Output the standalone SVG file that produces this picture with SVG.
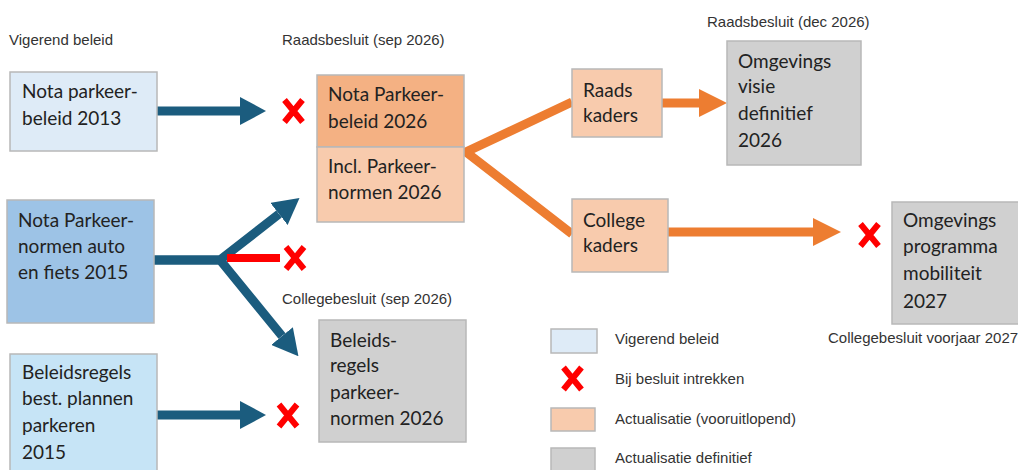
<svg xmlns="http://www.w3.org/2000/svg" width="1018" height="470" viewBox="0 0 1018 470">
<style>
.box{stroke:#b8b8b8;stroke-width:1.5}
.t{font-family:Lato,"Open Sans","Liberation Sans",sans-serif;font-size:19px;fill:#222}
.lbl{font-family:"Liberation Sans",Arial,sans-serif;font-size:15px;fill:#333}
.blue{fill:none;stroke:#1b5c7e;stroke-width:9;stroke-linejoin:miter}
.orange{fill:none;stroke:#ed7d31;stroke-width:9;stroke-linejoin:miter}
.x{fill:none;stroke:#ff0000;stroke-width:6}
</style>
<defs>
<marker id="hb" markerUnits="userSpaceOnUse" markerWidth="26" markerHeight="28" refX="0" refY="14" orient="auto" viewBox="0 0 26 28">
<path d="M0,0 L26,14 L0,28 Z" fill="#1b5c7e"/>
</marker>
<marker id="ho" markerUnits="userSpaceOnUse" markerWidth="28" markerHeight="28" refX="0" refY="14" orient="auto" viewBox="0 0 28 28">
<path d="M0,0 L28,14 L0,28 Z" fill="#ed7d31"/>
</marker>
<g id="xmark"><path class="x" d="M-9,-11 L9,11 M9,-11 L-9,11"/></g>
</defs>

<rect width="1018" height="470" fill="#ffffff"/>

<g id="connectors">
<line class="blue" x1="157" y1="111" x2="240" y2="111" marker-end="url(#hb)"/>
<polyline class="blue" points="154,260 220,260 279,214" marker-end="url(#hb)"/>
<polyline class="blue" points="154,260 220,260 282,336" marker-end="url(#hb)"/>
<line x1="227" y1="258" x2="280" y2="258" stroke="#ff0000" stroke-width="8"/>
<line class="blue" x1="157" y1="415" x2="240" y2="415" marker-end="url(#hb)"/>
<polyline class="orange" points="572,102 466,152 572,234"/>
<line class="orange" x1="662" y1="103" x2="699" y2="103" marker-end="url(#ho)"/>
<line class="orange" x1="668" y1="232" x2="813" y2="232" marker-end="url(#ho)"/>
</g>

<g id="crosses">
<use href="#xmark" x="293.5" y="111"/>
<use href="#xmark" x="295" y="258"/>
<use href="#xmark" x="288" y="415.5"/>
<use href="#xmark" x="869.5" y="235"/>
</g>

<g id="labels">
<text class="lbl" x="9" y="45">Vigerend beleid</text>
<text class="lbl" x="282" y="45">Raadsbesluit (sep 2026)</text>
<text class="lbl" x="707" y="27">Raadsbesluit (dec 2026)</text>
<text class="lbl" x="282" y="304">Collegebesluit (sep 2026)</text>
<text class="lbl" x="828" y="343">Collegebesluit voorjaar 2027</text>
</g>

<g id="n1">
<rect class="box" x="10" y="72" width="147" height="79" fill="#deebf7"/>
<text class="t" x="22" y="98">Nota parkeer-</text>
<text class="t" x="22" y="125">beleid 2013</text>
</g>
<g id="n2">
<rect class="box" x="7" y="200" width="147" height="123" fill="#9dc3e6"/>
<text class="t" x="18" y="227">Nota Parkeer-</text>
<text class="t" x="18" y="253">normen auto</text>
<text class="t" x="18" y="279">en fiets 2015</text>
</g>
<g id="n3">
<rect class="box" x="10" y="354" width="147" height="120" fill="#c6e4f6"/>
<text class="t" x="22" y="379">Beleidsregels</text>
<text class="t" x="22" y="405">best. plannen</text>
<text class="t" x="22" y="432">parkeren</text>
<text class="t" x="22" y="459">2015</text>
</g>
<g id="n4">
<rect class="box" x="317" y="75" width="147" height="72" fill="#f4b183"/>
<text class="t" x="328" y="101">Nota Parkeer-</text>
<text class="t" x="328" y="128">beleid 2026</text>
</g>
<g id="n5">
<rect class="box" x="317" y="147" width="147" height="75" fill="#f8cbad"/>
<text class="t" x="328" y="173">Incl. Parkeer-</text>
<text class="t" x="328" y="199">normen 2026</text>
</g>
<g id="n6">
<rect class="box" x="319" y="320" width="147" height="122" fill="#d0d0d0"/>
<text class="t" x="330" y="347">Beleids-</text>
<text class="t" x="330" y="372">regels</text>
<text class="t" x="330" y="399">parkeer-</text>
<text class="t" x="330" y="425">normen 2026</text>
</g>
<g id="n7">
<rect class="box" x="572" y="69" width="90" height="68" fill="#f8cbad"/>
<text class="t" x="583" y="97">Raads</text>
<text class="t" x="583" y="122">kaders</text>
</g>
<g id="n8">
<rect class="box" x="572" y="199" width="96" height="73" fill="#f8cbad"/>
<text class="t" x="583" y="227">College</text>
<text class="t" x="583" y="252">kaders</text>
</g>
<g id="n9">
<rect class="box" x="727" y="41" width="134" height="124" fill="#d0d0d0"/>
<text class="t" x="738" y="68">Omgevings</text>
<text class="t" x="738" y="93">visie</text>
<text class="t" x="738" y="120">definitief</text>
<text class="t" x="738" y="147">2026</text>
</g>
<g id="n10">
<rect class="box" x="892" y="202" width="130" height="122" fill="#d0d0d0"/>
<text class="t" x="903" y="227">Omgevings</text>
<text class="t" x="903" y="253">programma</text>
<text class="t" x="903" y="280">mobiliteit</text>
<text class="t" x="903" y="308">2027</text>
</g>

<g id="legend">
<rect class="box" x="551" y="329" width="46" height="24" fill="#deebf7"/>
<text class="lbl" x="615" y="344">Vigerend beleid</text>
<use href="#xmark" x="572.5" y="378.5"/>
<text class="lbl" x="615" y="384">Bij besluit intrekken</text>
<rect class="box" x="551" y="408" width="44" height="23" fill="#f8cbad"/>
<text class="lbl" x="615" y="424">Actualisatie (vooruitlopend)</text>
<rect class="box" x="551" y="448" width="44" height="26" fill="#d0d0d0"/>
<text class="lbl" x="615" y="463">Actualisatie definitief</text>
</g>
</svg>
